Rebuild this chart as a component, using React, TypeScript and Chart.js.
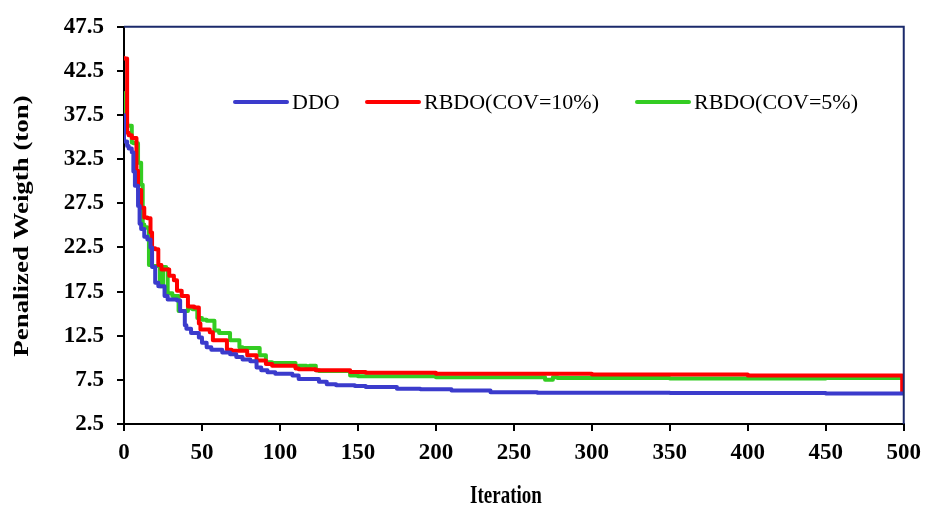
import React, { useEffect, useRef } from "react";
import { Chart, registerables } from "chart.js";

Chart.register(...registerables);

const seriesNames = ["DDO", "RBDO(COV=10%)", "RBDO(COV=5%)"];
const seriesColors = ["#3b3bcc", "#ff0000", "#33cc22"];

const ddoIter = [0, 2, 3, 5, 6, 7, 9, 10, 11, 13, 15, 17, 18, 20, 22, 26, 28, 34, 36, 39, 40, 43, 48, 50, 53, 56, 63, 68, 72, 76, 81, 85, 88, 92, 97, 108, 112, 125, 130, 136, 148, 155, 175, 190, 210, 235, 265, 350, 450, 500];
const ddoVal = [37.5, 34.5, 34.0, 33.7, 33.3, 31.1, 29.5, 27.2, 25.2, 24.6, 23.7, 23.4, 22.5, 20.3, 18.5, 18.1, 17.0, 16.6, 16.5, 15.3, 13.7, 13.3, 12.8, 12.3, 11.7, 11.2, 10.9, 10.6, 10.4, 10.1, 9.8, 9.6, 8.9, 8.6, 8.35, 8.2, 8.0, 7.6, 7.3, 7.0, 6.9, 6.8, 6.7, 6.5, 6.45, 6.3, 6.1, 6.05, 6.0, 5.95];

const rbdo10Iter = [0, 2, 3, 5, 8, 9, 11, 13, 15, 17, 18, 20, 22, 24, 29, 32, 34, 37, 41, 45, 48, 49, 55, 57, 59, 66, 69, 79, 85, 91, 95, 110, 112, 123, 145, 155, 200, 300, 400, 499, 500];
const rbdo10Val = [44.0, 43.9, 35.5, 35.2, 34.9, 31.2, 29.0, 27.0, 25.9, 25.8, 24.2, 22.4, 22.3, 20.5, 20.0, 19.3, 18.8, 17.6, 17.0, 15.8, 15.7, 13.9, 13.2, 12.9, 12.0, 12.0, 10.9, 10.8, 10.3, 9.7, 9.3, 9.1, 8.8, 8.7, 8.6, 8.4, 8.3, 8.2, 8.1, 8.0, 6.0];

const rbdo5Iter = [0, 1, 2, 5, 6, 9, 11, 12, 13, 15, 16, 18, 23, 25, 27, 28, 31, 35, 37, 41, 44, 47, 50, 53, 58, 61, 68, 74, 76, 87, 91, 95, 110, 112, 117, 119, 123, 125, 145, 150, 157, 200, 230, 270, 275, 278, 350, 450, 500];
const rbdo5Val = [40.0, 39.5, 36.7, 36.3, 34.4, 34.3, 32.1, 29.6, 25.1, 24.8, 24.7, 20.5, 20.4, 18.1, 20.3, 20.1, 17.3, 17.0, 15.3, 15.3, 15.6, 15.5, 14.5, 14.3, 14.2, 13.1, 12.8, 12.0, 11.2, 11.1, 10.3, 9.5, 9.4, 8.9, 9.1, 8.9, 9.1, 8.6, 8.5, 8.0, 7.9, 7.9, 7.8, 7.8, 7.5, 7.8, 7.7, 7.65, 7.7];

const yTicks = [2.5, 7.5, 12.5, 17.5, 22.5, 27.5, 32.5, 37.5, 42.5, 47.5];
const xTicks = [0, 50, 100, 150, 200, 250, 300, 350, 400, 450, 500];

const xTitle = "Iteration";
const yTitle = "Penalized Weigth (ton)";

const toPoints = (xs: number[], ys: number[]) => xs.map((x, i) => ({ x, y: ys[i] }));

export default function App() {
  const ref = useRef<HTMLCanvasElement | null>(null);

  useEffect(() => {
    document.body.style.margin = "0";
    const canvas = ref.current;
    if (!canvas) return;

    const framePlugin = {
      id: "frameAndText",
      afterDraw(chart: any) {
        const { ctx, chartArea } = chart;
        ctx.save();
        // top and right frame
        ctx.strokeStyle = "#1b2a6b";
        ctx.lineWidth = 2;
        ctx.beginPath();
        ctx.moveTo(chartArea.left, chartArea.top);
        ctx.lineTo(chartArea.right, chartArea.top);
        ctx.lineTo(chartArea.right, chartArea.bottom);
        ctx.stroke();

        // axis titles (tall, narrow serif look)
        ctx.fillStyle = "#000";
        ctx.textAlign = "center";
        ctx.textBaseline = "middle";
        ctx.save();
        ctx.font = "bold 19px 'Liberation Serif', 'Times New Roman', serif";
        ctx.translate(506, 497);
        ctx.scale(1, 1.3);
        ctx.fillText(xTitle, 0, 0);
        ctx.restore();
        ctx.save();
        ctx.font = "bold 21px 'Liberation Serif', 'Times New Roman', serif";
        ctx.translate(23, 226);
        ctx.rotate(-Math.PI / 2);
        ctx.scale(1.28, 1);
        ctx.fillText(yTitle, 0, 0);
        ctx.restore();

        // legend
        const legendY = 102;
        const lineStarts = [235, 367, 637];
        const lineLen = 52;
        ctx.font = "22px 'Liberation Serif', 'Times New Roman', serif";
        ctx.textAlign = "left";
        ctx.textBaseline = "middle";
        ctx.lineCap = "round";
        seriesNames.forEach((name, i) => {
          ctx.strokeStyle = seriesColors[i];
          ctx.lineWidth = 4;
          ctx.beginPath();
          ctx.moveTo(lineStarts[i], legendY);
          ctx.lineTo(lineStarts[i] + lineLen, legendY);
          ctx.stroke();
          ctx.fillStyle = "#000";
          ctx.fillText(name, lineStarts[i] + lineLen + 5, legendY + 1);
        });
        ctx.restore();
      },
    };

    const tickFont = { family: "'Liberation Serif', 'Times New Roman', serif", size: 23, weight: "bold" as const };

    const chart = new Chart(canvas, {
      type: "line",
      data: {
        datasets: [
          { label: seriesNames[0], data: toPoints(ddoIter, ddoVal), borderColor: seriesColors[0], backgroundColor: seriesColors[0] },
          { label: seriesNames[1], data: toPoints(rbdo10Iter, rbdo10Val), borderColor: seriesColors[1], backgroundColor: seriesColors[1] },
          { label: seriesNames[2], data: toPoints(rbdo5Iter, rbdo5Val), borderColor: seriesColors[2], backgroundColor: seriesColors[2] },
        ],
      },
      options: {
        animation: false,
        responsive: false,
        devicePixelRatio: 1,
        layout: { padding: { top: 20, right: 23, left: 0, bottom: 0 } },
        elements: {
          point: { radius: 0 },
          line: { borderWidth: 4, tension: 0, stepped: "after", borderJoinStyle: "round", borderCapStyle: "round" },
        },
        plugins: {
          legend: { display: false },
          tooltip: { enabled: false },
        },
        scales: {
          x: {
            type: "linear",
            min: 0,
            max: 500,
            afterBuildTicks: (scale: any) => {
              scale.ticks = xTicks.map((v) => ({ value: v }));
            },
            afterFit: (scale: any) => {
              scale.height = 88;
            },
            ticks: {
              color: "#000",
              font: tickFont,
              padding: 8,
              maxRotation: 0,
              autoSkip: false,
              callback: (v: any) => String(v),
            },
            grid: {
              display: true,
              drawOnChartArea: false,
              drawTicks: true,
              tickLength: 7,
              color: "#000",
              lineWidth: 2,
            },
            border: { display: true, color: "#000", width: 2 },
          },
          y: {
            type: "linear",
            min: 2.5,
            max: 47.5,
            afterBuildTicks: (scale: any) => {
              scale.ticks = yTicks.map((v) => ({ value: v }));
            },
            afterFit: (scale: any) => {
              scale.width = 124;
            },
            ticks: {
              color: "#000",
              font: tickFont,
              padding: 13,
              autoSkip: false,
              callback: (v: any) => Number(v).toFixed(1),
            },
            grid: {
              display: true,
              drawOnChartArea: false,
              drawTicks: true,
              tickLength: 7,
              color: "#000",
              lineWidth: 2,
            },
            border: { display: true, color: "#000", width: 2 },
          },
        },
      },
      plugins: [framePlugin],
    });

    return () => chart.destroy();
  }, []);

  return (
    <div style={{ width: 929, height: 512, background: "#fff" }}>
      <canvas ref={ref} width={929} height={512} style={{ display: "block" }} />
    </div>
  );
}
